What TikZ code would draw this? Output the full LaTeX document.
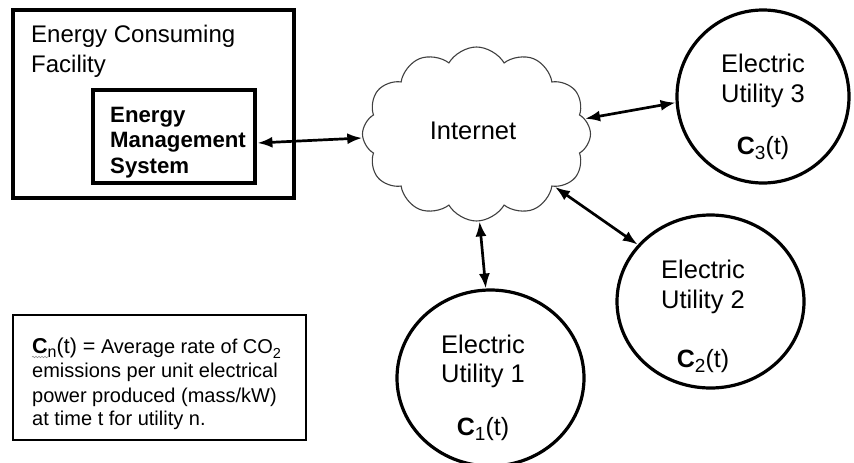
\documentclass[tikz,border=0pt]{standalone}
\usepackage{fontspec}
\setmainfont{Liberation Sans}
\usetikzlibrary{shapes.geometric,shapes.symbols,arrows.meta,decorations.pathmorphing}

\tikzset{
  facilitybox/.style={draw, line width=3.2pt, minimum width=281pt, minimum height=188pt, inner sep=0pt},
  emsbox/.style={draw, line width=4.8pt, minimum width=162pt, minimum height=93pt, inner sep=0pt},
  legendbox/.style={draw, line width=1.8pt, minimum width=293pt, minimum height=125pt, inner sep=0pt},
  utility/.style={draw, ellipse, line width=3.2pt, inner sep=0pt},
  net/.style={draw=black!75, cloud, cloud puffs=12, cloud puff arc=120, line width=1.1pt,
              minimum width=228pt, minimum height=174pt, inner sep=0pt},
  titletext/.style={anchor=base west, inner sep=0pt, font=\fontsize{24}{28}\selectfont},
  emstext/.style={anchor=base west, inner sep=0pt, font=\fontsize{22.2}{26}\selectfont\bfseries},
  utiltext/.style={anchor=base, inner sep=0pt, font=\fontsize{25.5}{30}\selectfont},
  ctext/.style={anchor=base, inner sep=0pt, font=\fontsize{25}{30}\selectfont},
  legendtext/.style={anchor=base west, inner sep=0pt, font=\fontsize{20}{24}\selectfont},
  link/.style={{Latex[length=15pt,width=11pt]}-{Latex[length=15pt,width=11pt]}, line width=2.7pt}
}

% bold C with a lowered, slightly smaller index, then (t)
\newcommand{\cval}[1]{\textbf{C}\raisebox{-0.22em}{\fontsize{19}{19}\selectfont #1}(t)}
\newcommand{\lowsub}[1]{\raisebox{-0.25em}{\fontsize{14.5}{15}\selectfont #1}}

\begin{document}
\begin{tikzpicture}[x=1pt,y=-1pt]
\useasboundingbox[fill=white] (0,0) rectangle (854,463);

% energy consuming facility with its management system
\node[facilitybox] (facility) at (153.5,104) {};
\node[titletext] (fac1) at (31,42) {Energy Consuming};
\node[titletext] (fac2) at (31,72) {Facility};
\node[emsbox] (ems) at (174,136.5) {};
\node[emstext] (ems1) at (110,122) {Energy};
\node[emstext] (ems2) at (110,147) {Management};
\node[emstext] (ems3) at (110,173) {System};

% the internet
\node[net] (internet) at (476.5,134) {};
\node[anchor=base, inner sep=0pt, font=\fontsize{25.5}{30}\selectfont] (nettext) at (473,139) {Internet};

% electric utilities
\node[utility, minimum width=172pt, minimum height=173pt] (u3) at (763,96.5) {};
\node[utiltext] (u3a) at (763,72) {Electric};
\node[utiltext] (u3b) at (763,102) {Utility 3};
\node[ctext] (u3c) at (763,154) {\cval{3}};

\node[utility, minimum width=187pt, minimum height=173pt] (u2) at (710.5,301.5) {};
\node[utiltext] (u2a) at (703,278) {Electric};
\node[utiltext] (u2b) at (703,308) {Utility 2};
\node[ctext] (u2c) at (703,367) {\cval{2}};

\node[utility, minimum width=187pt, minimum height=176pt] (u1) at (490.5,378) {};
\node[utiltext] (u1a) at (483,353) {Electric};
\node[utiltext] (u1b) at (483,382) {Utility 1};
\node[ctext] (u1c) at (483,435) {\cval{1}};

% connections
\draw[link] (ems.east |- 0,143) -- (internet.182);
\draw[link] (internet.8) -- (u3.184);
\draw[link] (internet.326) -- (u2.142);
\draw[link] (internet.272) -- (u1.93.6);

% legend
\node[legendbox] (legend) at (159.5,377.5) {};
\node[legendtext] (leg1) at (32,353)
  {{\fontsize{21.5}{24}\selectfont\textbf{C}\raisebox{-0.22em}{\fontsize{16}{16}\selectfont n}(t) =} Average rate of CO\lowsub{2}};
\node[legendtext] (leg2) at (32,377) {emissions per unit electrical};
\node[legendtext] (leg3) at (32,402) {power produced (mass/kW)};
\node[legendtext] (leg4) at (32,425) {at time t for utility n.};
\draw[black!45, line width=0.6pt, decorate, decoration={snake, amplitude=0.7pt, segment length=3pt}]
  ([yshift=-4pt]leg1.base west) -- ++(16,0);
\end{tikzpicture}
\end{document}
